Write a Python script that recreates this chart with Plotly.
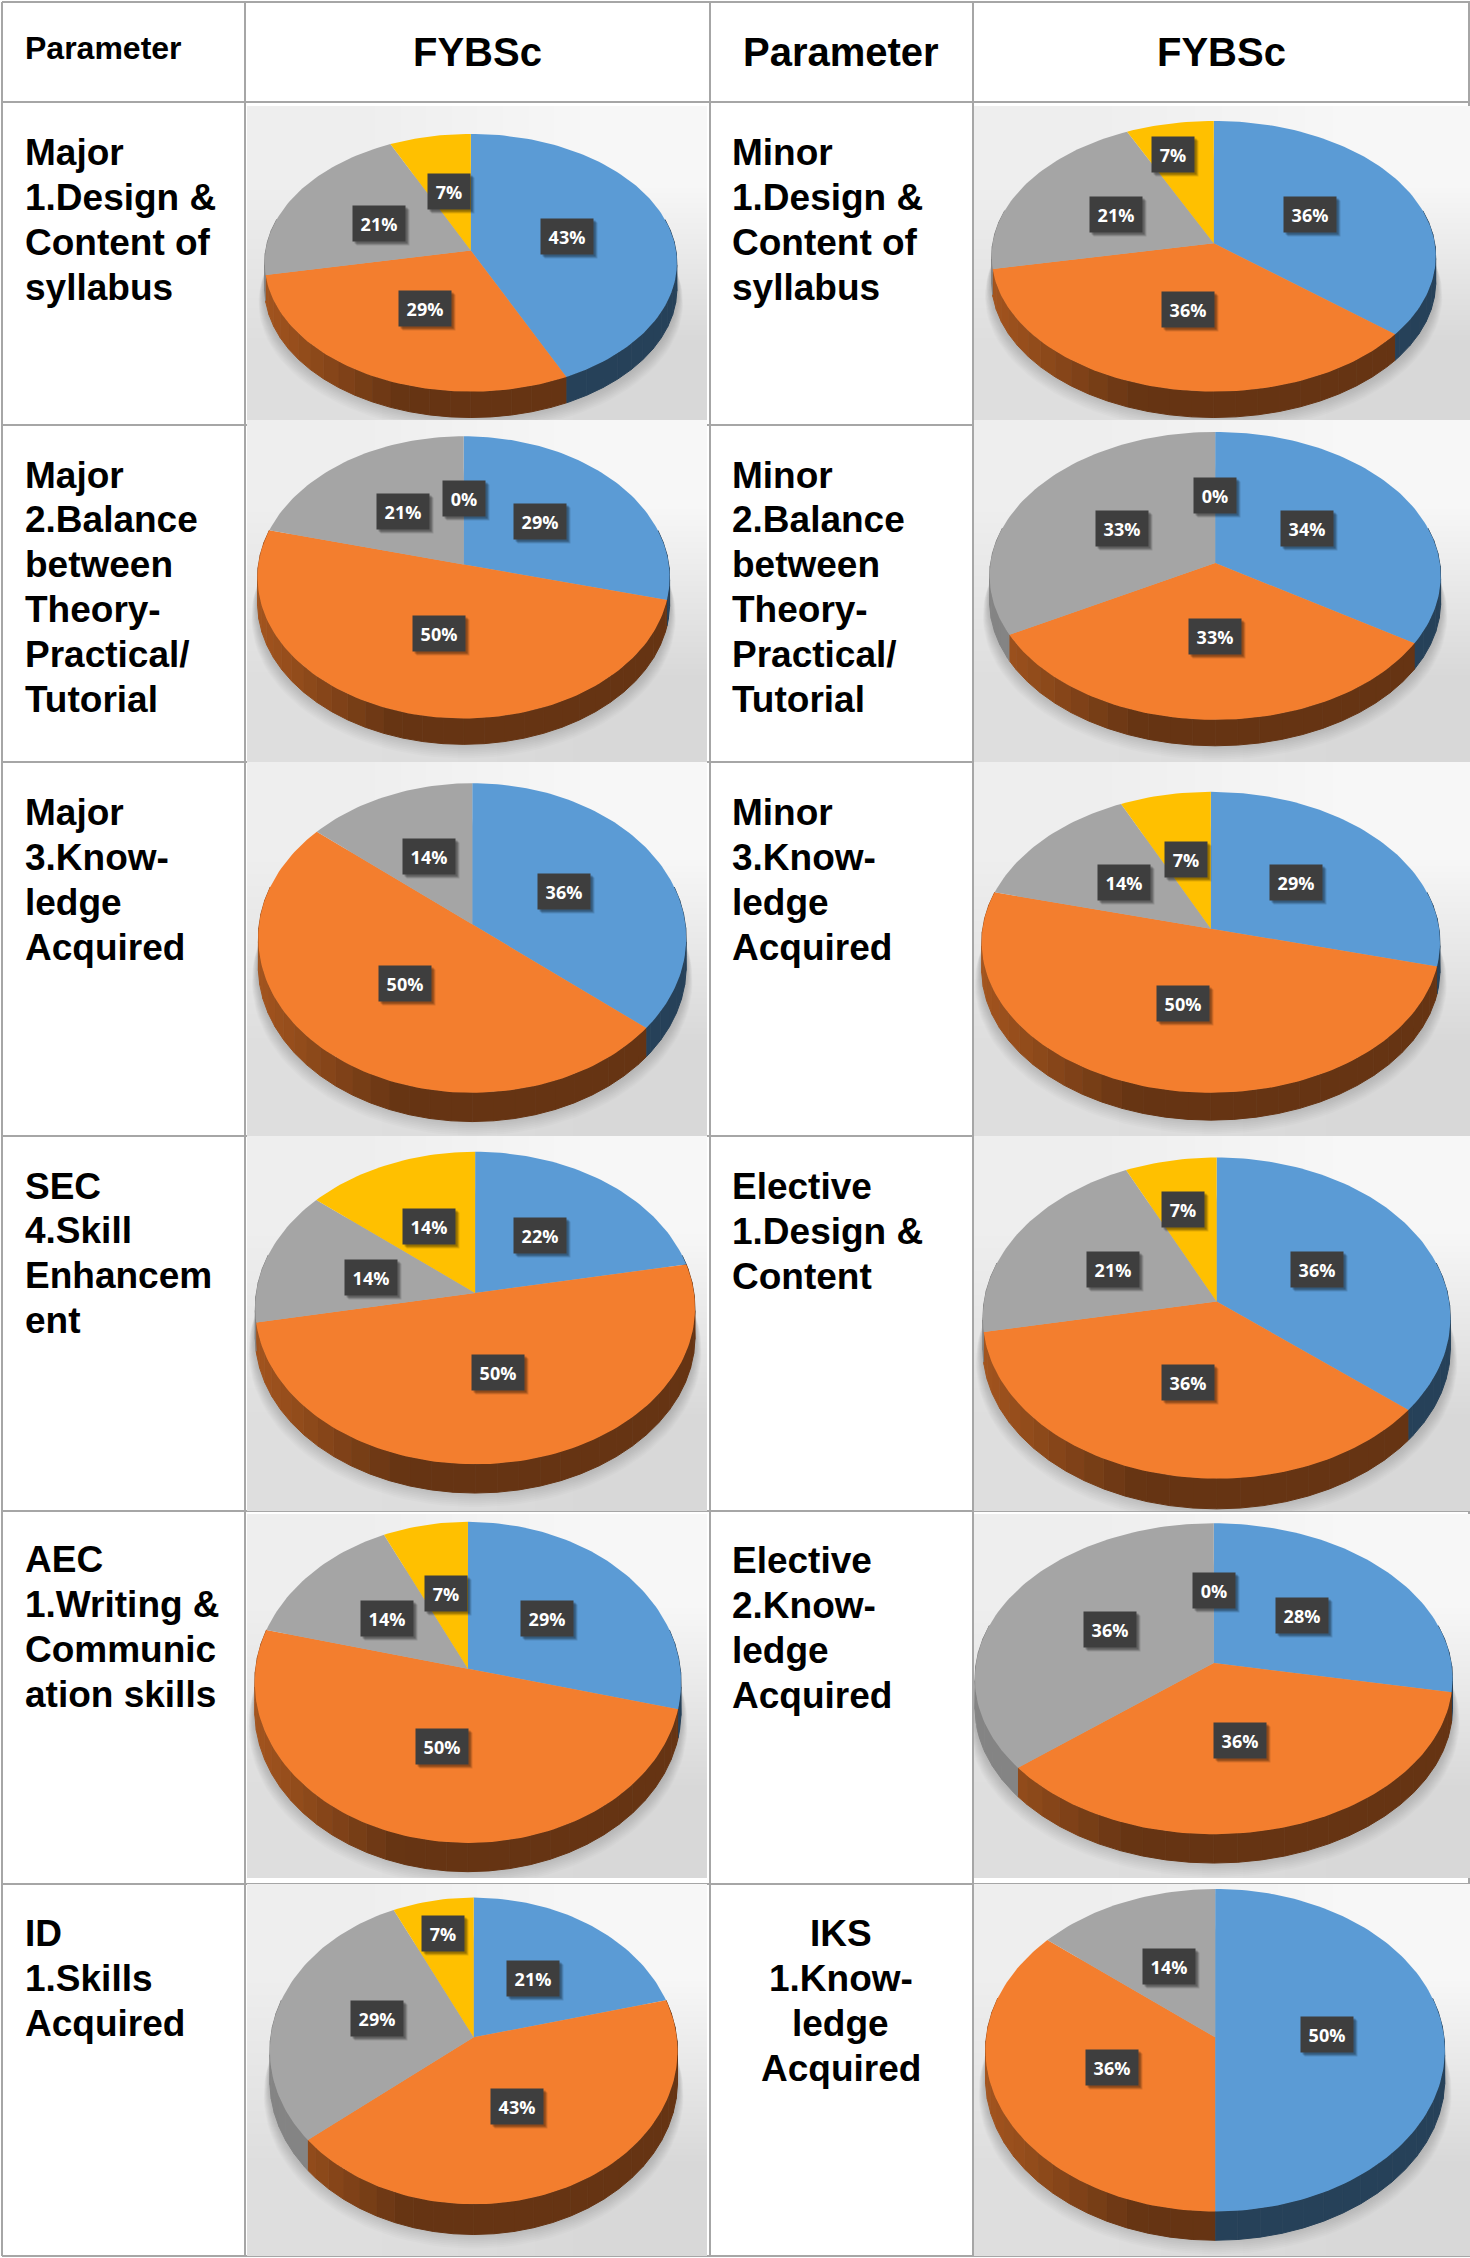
import numpy as np
import plotly.graph_objects as go

W, H = 1470, 2258
S = W / 1021.0  # geometry below was read at 1021 px width

SERIES_NAMES = ["Blue", "Orange", "Gray", "Yellow"]
SERIES_COLORS = ["#5b9bd5", "#f37e2e", "#a5a5a5", "#ffc000"]

# ---- values (percent) ----
major1 = [43, 29, 21, 7]
minor1 = [36, 36, 21, 7]
major2 = [29, 50, 21, 0]
minor2 = [34, 33, 33, 0]
major3 = [36, 50, 14, 0]
minor3 = [29, 50, 14, 7]
sec4 = [22, 50, 14, 14]
elective1 = [36, 36, 21, 7]
aec1 = [29, 50, 14, 7]
elective2 = [28, 36, 36, 0]
id1 = [21, 43, 29, 7]
iks1 = [50, 36, 14, 0]

# ---- whether a 0% label is printed ----
show_zero = [False, False, True, True, False, False, False, False, False, True, False, False]

all_values = [major1, minor1, major2, minor2, major3, minor3, sec4, elective1, aec1, elective2, id1, iks1]

# ---- geometry: cx, apex y, top y, bottom y, left x, right x, depth ----
PIE_GEOM = [
    (327, 174, 93, 272, 185, 470, 18),
    (843, 169, 84, 272, 690, 997, 18),
    (322, 392, 303, 499, 180, 465, 18),
    (844, 391, 300, 500, 688, 1000, 18),
    (328, 642, 544, 759, 180, 476, 20),
    (841, 645, 550, 759, 682, 999, 19),
    (330, 898, 800, 1017, 178, 482, 20),
    (845, 904, 804, 1027, 684, 1007, 21),
    (325, 1159, 1057, 1280, 177, 472, 20),
    (843, 1155, 1058, 1274, 677, 1007, 20),
    (329, 1415, 1318, 1531, 188, 470, 21),
    (844, 1415, 1312, 1536, 685, 1003, 20),
]

# ---- label centres, same order as the values ----
LABEL_POS = [
    [(394, 164), (295, 214), (263, 155), (312, 133)],
    [(910, 149), (825, 215), (775, 149), (815, 107)],
    [(375, 362), (305, 440), (280, 355), (322, 346)],
    [(908, 367), (844, 442), (779, 367), (844, 344)],
    [(392, 619), (281, 683), (298, 595), None],
    [(900, 613), (822, 697), (781, 613), (824, 597)],
    [(375, 858), (346, 953), (258, 887), (298, 852)],
    [(915, 882), (825, 960), (773, 882), (822, 840)],
    [(380, 1124), (307, 1213), (269, 1124), (310, 1107)],
    [(904, 1122), (861, 1209), (771, 1132), (843, 1105)],
    [(370, 1374), (359, 1463), (262, 1402), (308, 1343)],
    [(922, 1413), (772, 1436), (812, 1366), None],
]

# ---- table ----
V_LINES = [2, 245, 710, 973, 1469]
H_LINES = [2, 102, 425, 762, 1136, 1511, 1884, 2256]
PANEL_X = [(247, 707), (974, 1470)]
PANEL_Y = [(106, 420), (420, 762), (762, 1136), (1136, 1511), (1514, 1878), (1884, 2256)]

LEFT_TEXT = [
    ["Major", "1.Design &", "Content of", "syllabus"],
    ["Major", "2.Balance", "between", "Theory-", "Practical/", "Tutorial"],
    ["Major", "3.Know-", "ledge", "Acquired"],
    ["SEC", "4.Skill", "Enhancem", "ent"],
    ["AEC", "1.Writing &", "Communic", "ation skills"],
    ["ID", "1.Skills", "Acquired"],
]
RIGHT_TEXT = [
    ["Minor", "1.Design &", "Content of", "syllabus"],
    ["Minor", "2.Balance", "between", "Theory-", "Practical/", "Tutorial"],
    ["Minor", "3.Know-", "ledge", "Acquired"],
    ["Elective", "1.Design &", "Content"],
    ["Elective", "2.Know-", "ledge", "Acquired"],
    ["IKS", "1.Know-", "ledge", "Acquired"],
]
ROW_TEXT_Y_L = [106, 330, 564.6, 823.8, 1083.2, 1343]
ROW_TEXT_Y_R = [106, 330, 564.6, 824, 1084, 1343]
LINE_STEP = 31.15
TXT_FONT = "Liberation Sans"

fig = go.Figure()


def rim(g, theta):
    """Perspective circle: theta clockwise from 12 o'clock, returns pixel coords."""
    cx, ay, top, bot, left, right, depth = [v * S for v in g]
    dt, db = ay - top, bot - ay
    k = (db - dt) / (db + dt)
    B = dt * (1 + k)
    A = (right - left) / 2.0
    u, v = np.sin(theta), np.cos(theta)
    w = 1 + k * v
    return cx + A * u / w, ay - B * v / w


def poly(x, y, color, lw=0):
    fig.add_trace(go.Scatter(x=list(x), y=list(y), mode="lines", fill="toself",
                             fillcolor=color, line=dict(width=lw, color=color),
                             hoverinfo="skip", showlegend=False))


def shade(hex_c, f):
    r, g, b = int(hex_c[1:3], 16), int(hex_c[3:5], 16), int(hex_c[5:7], 16)
    return "rgb(%d,%d,%d)" % (r * f, g * f, b * f)


# panel backgrounds (light diagonal gradient)
for r, (y0, y1) in enumerate(PANEL_Y):
    for (x0, x1) in PANEL_X:
        w, h = x1 - x0, y1 - y0
        fig.add_trace(go.Heatmap(
            x=[x0 + w / 4, x0 + 3 * w / 4], y=[y0 + h / 4, y0 + 3 * h / 4],
            z=[[238, 247], [222, 216]], zmin=0, zmax=255, zsmooth="best",
            colorscale=[[0, "#000000"], [1, "#ffffff"]], showscale=False, hoverinfo="skip"))

for i, (vals, g) in enumerate(zip(all_values, PIE_GEOM)):
    col = i % 2
    px0, px1 = PANEL_X[col]
    py0, py1 = PANEL_Y[i // 2]
    depth = g[6] * S
    # soft shadow beneath the pie
    t = np.linspace(0, 2 * np.pi, 120)
    for s in range(14):
        rx, ry = rim(g, t)
        mx, my = (rx.max() + rx.min()) / 2, (ry.max() + ry.min()) / 2
        grow = 1 + 0.0022 * (14 - s)
        sx = mx + (rx - mx) * grow
        sy = my + (ry - my) * (1 - 0.004 * s) + depth + 14 - s * 1.2
        poly(np.clip(sx, px0, px1), np.clip(sy, py0, py1), "rgba(0,0,0,0.016)")

    total = sum(vals)
    angles = np.cumsum([0] + vals) / total * 2 * np.pi
    # side wall in shade bands
    edges = np.linspace(np.pi * 0.42, np.pi * 1.58, 41)
    for j, base in enumerate(SERIES_COLORS):
        a0, a1 = angles[j], angles[j + 1]
        if a1 <= a0:
            continue
        for b0, b1 in zip(edges[:-1], edges[1:]):
            lo, hi = max(a0, b0), min(a1, b1)
            if hi <= lo:
                continue
            th = np.linspace(lo, hi, 5)
            x, y = rim(g, th)
            pos = np.sin((lo + hi) / 2)  # +1 right .. -1 left
            f = np.interp(pos, [-1, -0.75, -0.3, 1], [0.68, 0.6, 0.42, 0.42])
            if j == 2:
                f = 0.8
            poly(np.r_[x, x[::-1]], np.r_[y, y[::-1] + depth], shade(base, f), lw=1)
    # top faces
    for j, base in enumerate(SERIES_COLORS):
        a0, a1 = angles[j], angles[j + 1]
        if a1 <= a0:
            continue
        th = np.linspace(a0, a1, max(int((a1 - a0) * 40), 6))
        x, y = rim(g, th)
        ax_x = g[0] * S
        ax_y = g[1] * S
        poly(np.r_[ax_x, x, ax_x], np.r_[ax_y, y, ax_y], base)

    # data labels
    for j, v in enumerate(vals):
        pos = LABEL_POS[i][j]
        if pos is None or (v == 0 and not show_zero[i]):
            continue
        txt = "%d%%" % v
        bw = 50 if v >= 10 else 40
        lx, ly = pos[0] * S, pos[1] * S
        for off, alpha in [(4, 0.12), (3, 0.16), (2, 0.2)]:
            fig.add_annotation(x=lx, y=ly, xref="x", yref="y", text=" ", showarrow=False,
                               width=bw, height=33, bgcolor="rgba(0,0,0,%g)" % alpha,
                               xshift=off, yshift=-off, font=dict(size=10))
        fig.add_annotation(x=lx, y=ly, xref="x", yref="y",
                           text="<b>%s</b>" % txt, showarrow=False, width=bw, height=33,
                           bgcolor="#3e3e3e", valign="middle",
                           font=dict(family="Open Sans", size=18, color="#ffffff"))


def label(x, y, text, size, anchor="left"):
    fig.add_annotation(x=x, y=y, xref="x", yref="y", text="<b>%s</b>" % text, showarrow=False,
                       xanchor=anchor, yanchor="middle", align=anchor,
                       font=dict(family=TXT_FONT, size=size, color="#000000"))


label(16.2 * S, 33 * S, "Parameter", 32)
label(331.5 * S, 36 * S, "FYBSc", 40, "center")
label(584.3 * S, 36 * S, "Parameter", 40, "center")
label(848.7 * S, 36 * S, "FYBSc", 40, "center")

for r, lines in enumerate(LEFT_TEXT):
    for n, s in enumerate(lines):
        label(16.2 * S, (ROW_TEXT_Y_L[r] + n * LINE_STEP) * S, s, 37)
for r, lines in enumerate(RIGHT_TEXT):
    for n, s in enumerate(lines):
        if r == 5:
            label(584 * S, (ROW_TEXT_Y_R[r] + n * LINE_STEP) * S, s, 37, "center")
        else:
            label(507.3 * S, (ROW_TEXT_Y_R[r] + n * LINE_STEP) * S, s, 37)

shapes = []
for x in V_LINES:
    shapes.append(dict(type="line", x0=x, x1=x, y0=2, y1=2256, xref="x", yref="y",
                       line=dict(color="#a6a6a6", width=2), layer="below"))
for y in H_LINES:
    shapes.append(dict(type="line", x0=2, x1=1470, y0=y, y1=y, xref="x", yref="y",
                       line=dict(color="#a6a6a6", width=2), layer="below"))

fig.update_layout(
    width=W, height=H, margin=dict(l=0, r=0, t=0, b=0), autosize=False,
    paper_bgcolor="#ffffff", plot_bgcolor="#ffffff", showlegend=False, shapes=shapes,
    xaxis=dict(range=[0, W], visible=False, fixedrange=True, domain=[0, 1]),
    yaxis=dict(range=[H, 0], visible=False, fixedrange=True, domain=[0, 1]),
)
fig.write_html("out.html", config={"displayModeBar": False},
               post_script="document.body.style.margin='0';")
